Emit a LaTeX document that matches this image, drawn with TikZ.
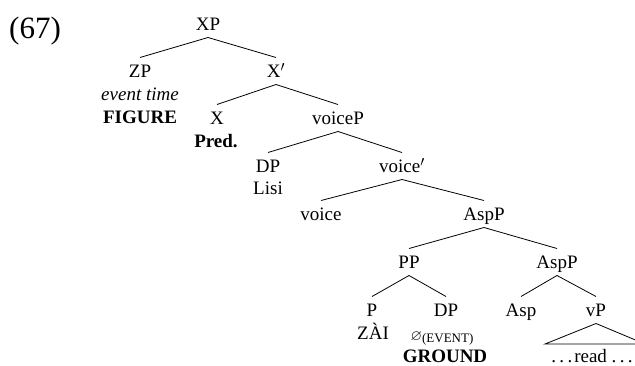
\documentclass[tikz,border=0pt]{standalone}
\usepackage{amsmath,amssymb}
\usepackage{graphicx}
\usepackage{fontspec}
\setmainfont{Liberation Serif}
\usepackage{tikz}
\usetikzlibrary{positioning}

\tikzset{
  cat/.style={inner xsep=1pt, inner ysep=7pt, text height=12.6pt, text depth=0pt},
  gloss/.style={inner sep=0pt, text height=12.6pt, text depth=0pt},
  branch/.style={line width=0.8pt}
}
\newcommand{\smallsub}[1]{\raisebox{-2pt}{\fontsize{13}{15}\selectfont #1}}
\newcommand{\threedots}{.\kern3.3pt.\kern3.3pt.}

\begin{document}
\begin{tikzpicture}[x=1pt, y=-1pt, font=\fontsize{19}{23}\selectfont]
  \useasboundingbox (0,0) rectangle (635,365);
  \node[font=\fontsize{31}{34}\selectfont] (exnum) at (35,31) {(67)};
  % category labels
  \foreach \n/\x/\y/\t in {xp/208/24/XP, zp/140/71/ZP, xbar/276/71/X$'$,
                           x/217/118/X, voicep/338/118/voiceP,
                           dp/268/166/DP, voicebar/402/166/voice$'$,
                           voice/321/214/voice, aspp/484/214/AspP,
                           pp/409/262/PP, asppl/557/262/AspP,
                           p/372/310/P, dpl/446/310/DP, asp/521/310/Asp, vp/596/310/vP} {
    \node[cat] (\n) at (\x,\y) {\t};
  }
  % words under the labels
  \node[gloss] (zptime) at (140,94) {\textit{event time}};
  \node[gloss] (zpfig) at (140,117) {\textbf{FIGURE}};
  \node[gloss] (xpred) at (216,141) {\textbf{Pred.}};
  \node[gloss] (dplisi) at (268,188) {Lisi};
  \node[gloss] (pzai) at (373,333) {ZÀI};
  \node[gloss] (dpevent) at (442,334) {\resizebox{11.5pt}{!}{$\varnothing$}\smallsub{(EVENT)}};
  \node[gloss] (dpground) at (445,356) {\textbf{GROUND}};
  \node[gloss] (vpread) at (592,356) {\threedots\kern2pt read \threedots};
  % branches
  \foreach \a/\b in {xp/zp, xp/xbar, xbar/x, xbar/voicep, voicep/dp, voicep/voicebar,
                     voicebar/voice, voicebar/aspp, aspp/pp, aspp/asppl,
                     pp/p, pp/dpl, asppl/asp, asppl/vp} {
    \draw[branch] (\a.south) -- (\b.north);
  }
  \coordinate (vpl) at (545,344);
  \coordinate (vpr) at (645,344);
  \draw[branch] (vp.south) -- (vpl) -- (vpr) -- cycle;
\end{tikzpicture}
\end{document}
